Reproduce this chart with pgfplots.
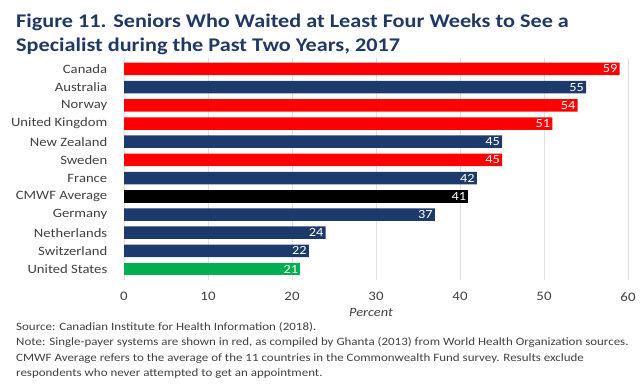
\documentclass[border=0pt]{standalone}
\usepackage{pgfplots}
\pgfplotsset{compat=1.18}
\usepackage{fontspec}
\setmainfont[FakeStretch=1.15]{Carlito}
\definecolor{navy}{HTML}{1C3A6C}
\definecolor{redbar}{HTML}{FF0000}
\definecolor{greenbar}{HTML}{00B050}
\definecolor{titleblue}{HTML}{1F3864}
\definecolor{txt}{HTML}{404040}
\begin{document}
\begin{tikzpicture}[x=1bp,y=1bp]
\path[use as bounding box] (0,0) rectangle (640,-389);
\begin{scope}[every node/.style={anchor=base west, font=\fontsize{19.4}{24}\selectfont\bfseries, text=titleblue, inner sep=0pt}]
\node at (16,-27) {Figure 11. Seniors Who Waited at Least Four Weeks to See a};
\node at (16,-51) {Specialist during the Past Two Years, 2017};
\end{scope}
\begin{axis}[
  at={(124bp,-280bp)}, anchor=south west,
  scale only axis, width=504bp, height=222bp,
  xmin=0, xmax=60, ymin=-0.6, ymax=11.6, y dir=reverse,
  xbar, bar width=12.5bp, bar shift=0pt,
  axis line style={draw=none}, tick style={draw=none},
  xtick={0,10,...,60}, xmajorgrids, grid style={gray!25},
  ytick={0,...,11},
  yticklabels={Canada,Australia,Norway,United Kingdom,New Zealand,Sweden,France,CMWF Average,Germany,Netherlands,Switzerland,United States},
  /pgf/number format/assume math mode=true,
  xticklabel style={font=\fontsize{13}{15}\selectfont, text=txt, yshift=-9bp},
  yticklabel style={font=\fontsize{12.8}{15}\selectfont, text=txt, xshift=-9bp},
  nodes near coords, point meta=x,
  every node near coord/.append style={anchor=east, text=white, font=\fontsize{12.5}{14}\selectfont, inner xsep=2bp},
]
\addplot[fill=redbar, draw=none] coordinates {(59,0) (54,2) (51,3) (45,5)};
\addplot[fill=navy, draw=none] coordinates {(55,1) (45,4) (42,6) (37,8) (24,9) (22,10)};
\addplot[fill=black, draw=none] coordinates {(41,7)};
\addplot[fill=greenbar, draw=none] coordinates {(21,11)};
\end{axis}
\node[font=\fontsize{12.5}{14}\selectfont\itshape, text=txt, inner sep=0pt] at (371,-313) {Percent};
\begin{scope}[every node/.style={anchor=base west, font=\fontsize{11.3}{14}\selectfont, text=txt, inner sep=0pt}]
\node at (16,-330) {Source: Canadian Institute for Health Information (2018).};
\node at (16,-345.5) {Note: Single-payer systems are shown in red, as compiled by Ghanta (2013) from World Health Organization sources.};
\node at (16,-361) {CMWF Average refers to the average of the 11 countries in the Commonwealth Fund survey. Results exclude};
\node at (16,-376.5) {respondents who never attempted to get an appointment.};
\end{scope}
\end{tikzpicture}
\end{document}
